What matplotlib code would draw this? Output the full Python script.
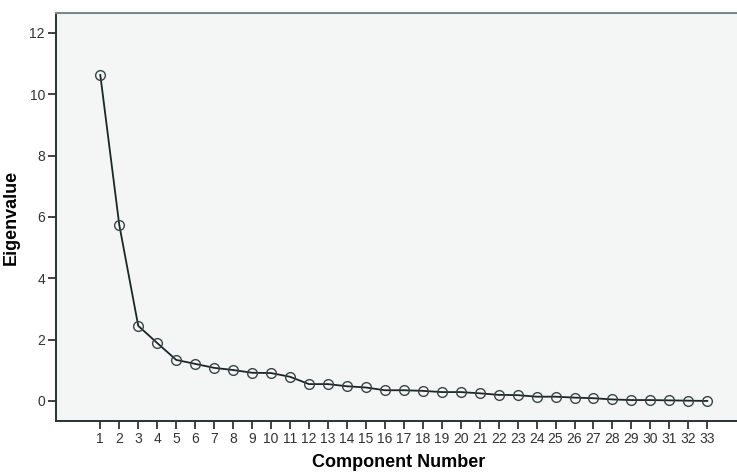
import numpy as np
import matplotlib.pyplot as plt

plt.rcParams['font.family'] = ['Liberation Sans', 'DejaVu Sans']

components = list(range(1, 34))
eigenvalues = [10.63, 5.74, 2.45, 1.89, 1.34, 1.21, 1.08, 1.01, 0.92, 0.91,
               0.79, 0.55, 0.55, 0.48, 0.44, 0.35, 0.35, 0.33, 0.29, 0.29,
               0.25, 0.20, 0.19, 0.14, 0.14, 0.11, 0.09, 0.05, 0.03, 0.03,
               0.02, 0.01, 0.00]
y_ticks = [0, 2, 4, 6, 8, 10, 12]

fig = plt.figure(figsize=(7.37, 4.73), dpi=100)
ax = fig.add_axes([0.076, 0.110, 0.93, 0.8625])
ax.set_facecolor('#f4f6f6')

ax.plot(components, eigenvalues, color='#1c2626', lw=1.3,
        marker='o', ms=7, mfc='none', mec='#3a4444', mew=1.0)

ax.set_xlim(-1.335, 34.8)
ax.set_ylim(-0.652, 12.65)
ax.set_xticks(components)
ax.set_yticks(y_ticks)
ax.tick_params(direction='out', length=6, width=1.2, colors='#222222',
               labelsize=10, labelcolor='#333333', pad=2)

ax.spines['right'].set_visible(False)
for s in ['left', 'bottom']:
    ax.spines[s].set_color('#2a3333')
    ax.spines[s].set_linewidth(1.4)
ax.spines['top'].set_color('#7a8a8a')
ax.spines['top'].set_linewidth(1.5)

ax.set_ylabel('Eigenvalue', fontsize=13, fontweight='bold', labelpad=7)
ax.set_xlabel('Component Number', fontsize=13, fontweight='bold', labelpad=6)

fig.savefig('out.png', dpi=100)
